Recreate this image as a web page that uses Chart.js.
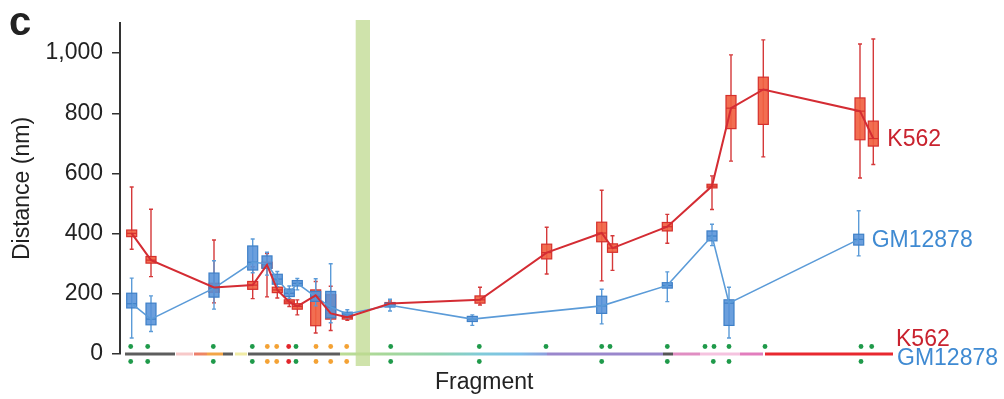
<!DOCTYPE html>
<html>
<head>
<meta charset="utf-8">
<script src="https://cdn.jsdelivr.net/npm/chart.js@4.4.1/dist/chart.umd.min.js"></script>
<style>
  html, body { margin: 0; padding: 0; background: #fff; }
  #wrap { width: 1004px; height: 399px; }
</style>
</head>
<body>
<div id="wrap"><canvas id="chart" width="1004" height="399"></canvas></div>
<script>
// Fragment positions along the locus and distance distributions (nm)
const k562Pos = [11.7, 31, 94, 132.7, 147, 157.3, 169.3, 177.3, 195.7, 210.7, 227.3, 270, 360, 426.7, 481.7, 492.5, 547.3, 592, 611, 643.3, 740, 753.3];
const k562Min = [348, 257, 170, 184, 190, 186, 158, 130, 70, 78, 112, 160, 163, 266, 243, 278, 368, 480, 641, 655, 585, 630];
const k562Q1  = [390, 302, 205, 215, 285, 204, 167, 149, 94, 116, 116, 163, 169, 316, 373, 338, 409, 552, 749, 763, 712, 691];
const k562Med = [401, 312, 221, 229, 296, 213, 173, 158, 195, 135, 122, 168, 180, 337, 402, 352, 423, 558, 817, 879, 807, 716];
const k562Q3  = [412, 324, 235, 241, 305, 222, 180, 167, 213, 197, 125, 171, 193, 365, 438, 366, 437, 564, 859, 920, 851, 774];
const k562Max = [555, 481, 379, 290, 334, 244, 202, 180, 241, 225, 130, 176, 222, 421, 544, 393, 464, 592, 994, 1044, 1030, 1047];

const gmPos = [11.7, 31, 94, 132.7, 147, 157.3, 169.3, 177.3, 195.7, 210.7, 227.3, 270, 352.3, 481.7, 547.3, 592, 609, 738.7];
const gmMin = [53, 75, 149, 270, 262, 224, 185, 213, 160, 104, 120, 143, 95, 100, 174, 360, 53, 326];
const gmQ1  = [153, 97, 189, 279, 285, 232, 191, 226, 175, 120, 125, 156, 108, 135, 219, 376, 95, 362];
const gmMed = [167, 116, 219, 305, 300, 249, 202, 235, 190, 156, 133, 162, 116, 160, 228, 392, 169, 381];
const gmQ3  = [202, 169, 269, 359, 326, 265, 216, 244, 208, 208, 139, 169, 125, 192, 237, 409, 180, 398];
const gmMax = [252, 193, 310, 382, 338, 274, 226, 251, 250, 300, 147, 182, 130, 215, 273, 431, 222, 476];

// Probe positions and their call type (g = green, o = orange, r = red)
const k562Probes = [10.7, 27.7, 93.3, 132.3, 147.3, 156.7, 168.7, 176, 196, 210.7, 226.7, 270.7, 359.3, 426, 481.7, 490, 547.3, 585, 594, 609, 645, 741, 751.7];
const k562Calls  = ['g','g','g','g','o','o','r','g','o','o','o','g','g','g','g','g','g','g','g','g','g','g','g'];
const gmProbes = [10.7, 27.7, 93.3, 132.3, 147.3, 156.7, 168.7, 176, 196, 210.7, 226.7, 270.7, 359.3, 481.7, 547.3, 593.3, 609, 741];
const gmCalls  = ['g','g','g','g','o','o','r','g','o','o','o','g','g','g','g','g','g','g'];

// Annotation track segments along the locus
const trackStart = [5, 56, 74, 87, 103, 115, 128, 220, 267, 320, 360, 400, 427, 543, 553, 580, 620, 645];
const trackEnd   = [55, 73, 87, 103, 113, 127, 220, 267, 320, 360, 400, 427, 543, 553, 580, 620, 643, 773];

// Highlighted region
const bandStart = 235.7;
const bandEnd = 250;

const yTicks = [0, 200, 400, 600, 800, 1000];

// --- styles ---
const trackColors = [
  ['#5d5d5d', '#5d5d5d'], ['#f7c9c9', '#f7c9c9'], ['#ec7d6e', '#ee8a5e'], ['#f2a446', '#f2a446'],
  ['#5d5d5d', '#5d5d5d'], ['#f1eca6', '#f1eca6'], ['#5d5d5d', '#5d5d5d'], ['#bddc95', '#a6d79a'],
  ['#a6d79a', '#8fd2b0'], ['#8fd2b0', '#80cbd8'], ['#80cbd8', '#7cbfe9'], ['#7cbfe9', '#8d9edc'],
  ['#9a87cc', '#9a87cc'], ['#555555', '#555555'], ['#e08ec2', '#e08ec2'], ['#f5c3df', '#f5c3df'],
  ['#e27dbd', '#e27dbd'], ['#e8282f', '#e8282f']
];
const callColors = { g: '#1f9a4a', o: '#f4a234', r: '#e2262b' };
const RED = { fill: 'rgba(241,98,66,0.92)', edge: '#d6302c', whisker: '#d5393a', line: '#d42c33', text: '#c9222e' };
const BLUE = { fill: 'rgba(86,146,216,0.88)', edge: '#3f80c8', whisker: '#5b9bd8', line: '#5b9bd8', text: '#3f8ad2' };
const FONT = "'Liberation Sans', Arial, sans-serif";

function drawBoxes(chart, xs, lo, q1, med, q3, hi, st) {
  const { ctx, scales: { x, y } } = chart;
  const half = 5, cap = 2;
  for (let i = 0; i < xs.length; i++) {
    const px = x.getPixelForValue(xs[i]);
    const yLo = y.getPixelForValue(lo[i]);
    const yQ1 = y.getPixelForValue(q1[i]);
    const yMed = y.getPixelForValue(med[i]);
    const yQ3 = y.getPixelForValue(q3[i]);
    const yHi = y.getPixelForValue(hi[i]);
    ctx.strokeStyle = st.whisker;
    ctx.lineWidth = 1.4;
    ctx.beginPath();
    ctx.moveTo(px, yHi); ctx.lineTo(px, yLo);
    ctx.moveTo(px - cap, yHi); ctx.lineTo(px + cap, yHi);
    ctx.moveTo(px - cap, yLo); ctx.lineTo(px + cap, yLo);
    ctx.stroke();
    ctx.fillStyle = st.fill;
    ctx.fillRect(px - half, yQ3, half * 2, yQ1 - yQ3);
    ctx.strokeStyle = st.edge;
    ctx.lineWidth = 1.2;
    ctx.strokeRect(px - half, yQ3, half * 2, yQ1 - yQ3);
    ctx.beginPath();
    ctx.moveTo(px - half, yMed); ctx.lineTo(px + half, yMed);
    ctx.stroke();
  }
}

const decorations = {
  id: 'decorations',
  beforeDatasetsDraw(chart) {
    const { ctx, chartArea, scales: { x, y } } = chart;
    const y0 = y.getPixelForValue(0);
    ctx.save();

    // annotation track on the baseline
    ctx.lineWidth = 3;
    for (let i = 0; i < trackStart.length; i++) {
      const x1 = x.getPixelForValue(trackStart[i]);
      const x2 = x.getPixelForValue(trackEnd[i]);
      const g = ctx.createLinearGradient(x1, 0, x2, 0);
      g.addColorStop(0, trackColors[i][0]);
      g.addColorStop(1, trackColors[i][1]);
      ctx.strokeStyle = g;
      ctx.beginPath();
      ctx.moveTo(x1, y0); ctx.lineTo(x2, y0);
      ctx.stroke();
    }

    // probe calls, K562 above and GM12878 below the track
    const rows = [[k562Probes, k562Calls, y0 - 7.5], [gmProbes, gmCalls, y0 + 7.5]];
    for (const [pos, calls, py] of rows) {
      for (let i = 0; i < pos.length; i++) {
        ctx.fillStyle = callColors[calls[i]];
        ctx.beginPath();
        ctx.arc(x.getPixelForValue(pos[i]), py, 2.4, 0, Math.PI * 2);
        ctx.fill();
      }
    }

    // highlighted region
    const bx1 = x.getPixelForValue(bandStart);
    const bx2 = x.getPixelForValue(bandEnd);
    ctx.fillStyle = 'rgba(191,218,143,0.75)';
    ctx.fillRect(bx1, chartArea.top - 3, bx2 - bx1, y0 + 12 - (chartArea.top - 3));

    drawBoxes(chart, k562Pos, k562Min, k562Q1, k562Med, k562Q3, k562Max, RED);
    drawBoxes(chart, gmPos, gmMin, gmQ1, gmMed, gmQ3, gmMax, BLUE);
    ctx.restore();
  },
  afterDraw(chart) {
    const { ctx, chartArea, scales: { x, y } } = chart;
    const y0 = y.getPixelForValue(0);
    ctx.save();
    ctx.textBaseline = 'middle';
    ctx.textAlign = 'left';
    ctx.font = '23px ' + FONT;

    const kLast = k562Pos.length - 1;
    ctx.fillStyle = RED.text;
    ctx.fillText('K562', x.getPixelForValue(k562Pos[kLast]) + 14, y.getPixelForValue(k562Med[kLast]) + 1);
    const gLast = gmPos.length - 1;
    ctx.fillStyle = BLUE.text;
    ctx.fillText('GM12878', x.getPixelForValue(gmPos[gLast]) + 13, y.getPixelForValue(gmMed[gLast]) + 1);

    ctx.fillStyle = RED.text;
    ctx.fillText('K562', chartArea.right + 1, y0 - 14);
    ctx.fillStyle = BLUE.text;
    ctx.fillText('GM12878', chartArea.right + 2, y0 + 5);

    ctx.fillStyle = '#222';
    ctx.textAlign = 'center';
    ctx.fillText('Fragment', chartArea.left + (chartArea.right - chartArea.left) * 0.47, 383);

    ctx.textAlign = 'left';
    ctx.textBaseline = 'alphabetic';
    ctx.font = 'bold 40px ' + FONT;
    ctx.fillText('c', 9, 35);
    ctx.restore();
  }
};

const toPoints = (xs, ys) => xs.map((v, i) => ({ x: v, y: ys[i] }));

new Chart(document.getElementById('chart'), {
  type: 'line',
  data: {
    datasets: [
      { label: 'K562', data: toPoints(k562Pos, k562Med), borderColor: RED.line, borderWidth: 2, pointRadius: 0, tension: 0, clip: false },
      { label: 'GM12878', data: toPoints(gmPos, gmMed), borderColor: BLUE.line, borderWidth: 1.6, pointRadius: 0, tension: 0, clip: false }
    ]
  },
  options: {
    responsive: false,
    animation: false,
    devicePixelRatio: 1,
    layout: { padding: { top: 23, right: 109, bottom: 45, left: 0 } },
    plugins: { legend: { display: false }, tooltip: { enabled: false } },
    scales: {
      x: { type: 'linear', min: 0, max: 775, display: false },
      y: {
        min: 0, max: 1100,
        afterFit(scale) { scale.width = 120; },
        afterBuildTicks(scale) {
          const t = [];
          for (let v = 0; v <= 1100; v += 100) t.push({ value: v });
          scale.ticks = t;
        },
        ticks: {
          padding: 9,
          color: '#222',
          font: { family: FONT, size: 23 },
          callback: v => yTicks.includes(v) ? v.toLocaleString('en-US') : ''
        },
        grid: { drawOnChartArea: false, drawTicks: true, tickLength: 8, color: '#333', lineWidth: 1.5 },
        border: { display: true, color: '#333', width: 2 },
        title: { display: true, text: 'Distance (nm)', color: '#222', font: { family: FONT, size: 23 }, padding: { top: 9 } }
      }
    }
  },
  plugins: [decorations]
});
</script>
</body>
</html>
